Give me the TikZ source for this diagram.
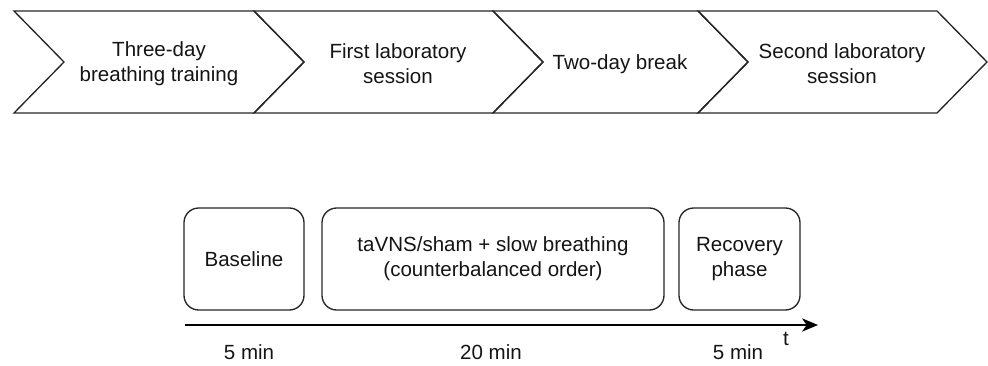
\documentclass[tikz,border=0pt]{standalone}
\usepackage{fontspec}
\setmainfont{Liberation Sans}
\usetikzlibrary{arrows.meta}
\begin{document}
\begin{tikzpicture}[x=0.75pt,y=-0.75pt,
  every node/.style={font=\fontsize{15.4pt}{18.6pt}\selectfont, text=black!92},
  chev/.style={draw=black!85, line width=1pt, line join=miter},
  lbl/.style={align=center},
  phase/.style={draw=black!85, line width=1pt, rounded corners=11pt, align=center, minimum height=76.5pt, inner sep=0pt},
  axis/.style={draw=black, line width=1pt, -{Stealth[length=12pt,width=10pt,inset=3.5pt]}}
]
\useasboundingbox (0,0) rectangle (988,365);
% chevrons
\draw[chev] (14,11) -- (254,11) -- (304,62) -- (254,113) -- (14,113) -- (64,62) -- cycle;
\draw[chev] (254,11) -- (493,11) -- (543,62) -- (493,113) -- (254,113) -- (304,62) -- cycle;
\draw[chev] (493,11) -- (698,11) -- (748,62) -- (698,113) -- (493,113) -- (543,62) -- cycle;
\draw[chev] (698,11) -- (937,11) -- (987,62) -- (937,113) -- (698,113) -- (748,62) -- cycle;
\node[lbl] (c1) at (159,64) {Three-day\\breathing training};
\node[lbl] (c2) at (398,64) {First laboratory\\session};
\node[lbl] (c3) at (620,64) {Two-day break};
\node[lbl] (c4) at (842,64) {Second laboratory\\session};
% phases
\node[phase, minimum width=90pt] (base) at (244,259) {Baseline};
\node[phase, minimum width=256.5pt] (stim) at (493,259) {taVNS/sham + slow breathing\\(counterbalanced order)};
\node[phase, minimum width=90.75pt] (rec) at (739.5,259) {Recovery\\phase};
% time axis
\coordinate (ax0) at (185,325);
\coordinate (ax1) at (818,325);
\draw[axis] (ax0) -- (ax1);
\node (t) at (786,339) {t};
\node (d1) at (249,352) {5 min};
\node (d2) at (491,352) {20 min};
\node (d3) at (738,352) {5 min};
\end{tikzpicture}
\end{document}
